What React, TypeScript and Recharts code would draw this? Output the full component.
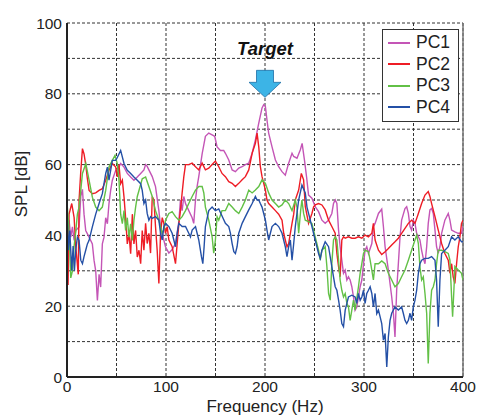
import {
  LineChart,
  Line,
  XAxis,
  YAxis,
  CartesianGrid,
  Legend,
  ReferenceLine,
  ReferenceDot,
  Label,
} from 'recharts'

// frequency (Hz) / SPL (dB), per principal component
const pc1Hz = [0, 2.1, 3.8, 5.5, 7.2, 8.8, 12.2, 13.9, 15.6, 17.2, 18.9, 22.3, 25.6, 27.3, 29, 30.7, 32.4, 34, 35.7, 37.4, 39.1, 40.8, 42.4, 44.1, 45.8, 49.2, 52.5, 54.2, 57.6, 60.9, 64.3, 67.6, 71, 74.4, 77.7, 79.4, 81, 82.7, 86.1, 89.4, 92.8, 94.5, 96.2, 97.8, 99.5, 102.9, 106.2, 109.6, 113, 114.6, 116.3, 118, 119.7, 123, 126.4, 128, 129.8, 131.4, 133.1, 136.5, 139.8, 143.2, 146.6, 149.2, 151.6, 155, 158.3, 160, 163.4, 166.8, 170.1, 173.5, 176.9, 180.2, 183.6, 187, 190.3, 193.7, 197, 198.7, 200.4, 202, 203.7, 207.1, 210.5, 213.8, 217.2, 220.5, 223.9, 227.3, 229, 232.3, 235.7, 237.5, 240, 242, 244, 247.4, 250.7, 254.1, 257.5, 260.8, 264.2, 267.5, 269.2, 270.9, 272.6, 274.3, 275.9, 277.6, 279.3, 281, 282.7, 284.3, 286, 287.7, 289.4, 291, 292.7, 294.4, 296.1, 297.8, 299.5, 301.1, 302.8, 304.5, 307.9, 309.5, 311.2, 314.6, 317.9, 319.6, 321.3, 324.6, 328, 329.7, 331.3, 333, 334.7, 336.4, 338, 341.4, 343.1, 344.8, 346.5, 348.1, 349.8, 351.5, 353.2, 354.9, 356.5, 358.2, 359.9, 361.6, 363.3, 364.9, 366.6, 368.3, 370, 371.7, 373.3, 375, 376.7, 378.4, 381.7, 385.1, 386.8, 388.5, 391.8, 395.2, 398.5, 400]
const pc1Db = [45, 44.2, 39.5, 42.4, 38.6, 41.4, 42.4, 51, 53, 46, 41.4, 39.5, 37.6, 33, 30, 21.6, 29, 25.4, 37.6, 39.5, 45, 43.3, 49, 52.7, 55.6, 58.4, 59.3, 60.3, 59.3, 57.5, 56.5, 55.6, 56.5, 57.5, 58.5, 60, 59.5, 58.5, 56.6, 53.8, 47, 42.5, 40.6, 38.7, 36.8, 35, 36, 37.7, 44, 50, 47, 51, 49, 47, 45, 43.4, 50, 53.8, 56.6, 63, 68, 68.9, 68.4, 68, 65, 64, 64, 63.2, 61.3, 58.5, 58, 59, 59.4, 60, 60.4, 63.2, 67, 71.7, 76, 76.9, 76.4, 72.6, 68.9, 65, 61.3, 59.4, 58, 57, 60.4, 63.2, 62.3, 61.8, 64.2, 66, 61, 56.5, 51.4, 50.5, 48.1, 46.7, 44.3, 43.4, 44.3, 46.2, 49, 50, 49, 41.5, 36.8, 33, 29.3, 30.2, 27.4, 28.3, 27.4, 25.5, 22.6, 18.9, 19.8, 22.6, 25.5, 27.4, 32, 35.8, 36.8, 34.9, 37.7, 42.5, 43.4, 46.2, 47.4, 42.5, 36.8, 30.2, 22.6, 18, 11.3, 24.5, 32, 39.6, 44.3, 47.6, 48.1, 46.2, 42.5, 41.5, 44.3, 43.4, 40.6, 39.6, 38.7, 35.8, 33.5, 32, 36.8, 43.4, 47.2, 47.6, 46.2, 41.5, 36.8, 34.9, 36.8, 40.6, 44.3, 46.2, 44.3, 41.5, 41, 40.6, 40.6, 42.5]

const pc2Hz = [0, 1.1, 2.1, 4.8, 7.2, 8.8, 11.4, 12.2, 13.9, 15.6, 17.2, 18.9, 20.6, 22.3, 25.6, 29, 32.4, 35.7, 39.1, 42.4, 45.8, 49.2, 50.8, 52.5, 54.2, 55.9, 57.6, 59.2, 60.9, 62.6, 64.3, 66, 67.6, 69.3, 71, 72.7, 74.4, 76, 77.7, 79.4, 81, 82.7, 84.4, 86.1, 87.8, 89.4, 91.1, 92.8, 94.5, 96.2, 97.8, 99.5, 101.2, 102.9, 106.2, 109.6, 111.3, 113, 114.6, 116.3, 118, 119.7, 123, 126.4, 129.8, 133.1, 136.5, 139.8, 143.2, 146.6, 149.9, 153.3, 156.6, 160, 163.4, 166.8, 170.1, 173.5, 176.9, 180.2, 183.6, 187, 190.3, 192, 193.7, 195.3, 197, 198.7, 200.4, 202, 203.7, 207.1, 210.5, 213.8, 217.2, 218.9, 220.5, 222.2, 223.9, 225.6, 227.3, 229, 230.6, 234, 236.7, 239, 240.7, 244, 247.4, 249.1, 250.7, 254.1, 257.5, 260.8, 264.2, 267.5, 270.9, 272.6, 274.3, 275.9, 277.6, 279.3, 281, 284.3, 287.7, 291, 294.4, 297.8, 301.1, 304.5, 307.9, 309.5, 311.2, 314.6, 317.9, 321.3, 324.6, 328, 331.3, 334.7, 338, 341.4, 344.8, 348.1, 351.5, 354.9, 358.2, 361.6, 364.9, 366.6, 368.3, 371.7, 375, 378.4, 381.7, 385.1, 386.8, 388.5, 390.1, 391.8, 393.5, 395.2, 396.9, 398.5, 400]
const pc2Db = [38.6, 26, 46, 49, 45, 37, 29, 50, 58, 64.5, 63, 60, 56, 52.7, 51.8, 52, 52.7, 53.2, 55.6, 58.4, 60.3, 59.3, 56.5, 60, 54.6, 55.6, 50.8, 45, 37.6, 40.5, 34.8, 46, 37.6, 41.4, 33.9, 35.8, 32, 41.4, 35.8, 43.4, 37.7, 40.6, 35, 51, 50, 42.5, 35.8, 26.4, 40.6, 45, 43.4, 40.6, 42.5, 38.7, 36.8, 32, 37.7, 43.4, 47, 52, 56.6, 60, 60, 60.4, 59.4, 58.5, 60.4, 58.5, 59, 60, 61, 59.4, 57.5, 56.6, 55.2, 54.7, 53.8, 54.7, 55.7, 56.6, 58.5, 63.2, 66, 68.9, 65, 59.4, 56.6, 54.7, 52.8, 50, 49, 48, 47, 46, 44.3, 40.6, 38.7, 36.8, 37.7, 40.6, 43.4, 46, 50, 52.8, 57.5, 55.7, 48.1, 43.4, 46.2, 48.1, 48.6, 49, 48.6, 47.2, 44.3, 42.5, 40.6, 34.9, 31.2, 28.3, 38.7, 39.6, 39.2, 39.6, 39.2, 39.2, 39.6, 39.2, 40.1, 39.6, 40.6, 43.4, 38.7, 35.8, 34.6, 35.4, 36.3, 37.3, 38.2, 39.2, 40.6, 42, 43.4, 44.3, 43.4, 46.2, 49, 51.4, 52.4, 51, 49, 45.3, 41.5, 37.7, 34.9, 33, 29.3, 32, 28.3, 26.4, 32, 36.8, 39.6, 43.4, 44.3]

const pc3Hz = [0, 2.1, 3.8, 5.5, 7.2, 8.8, 10.5, 12.2, 13.9, 15.6, 19, 22.3, 25.6, 29, 32.4, 35.7, 39.1, 42.4, 45.8, 48.5, 50.8, 52.5, 54.2, 55.9, 57.6, 59.2, 60.9, 62.6, 64.3, 66, 67.6, 69.3, 71, 72.7, 76, 79.4, 82.7, 86.1, 89.4, 92.8, 96.2, 97.8, 99.5, 102.9, 106.2, 109.6, 113, 116.3, 119.7, 123, 126.4, 129.8, 133.1, 136.5, 138.2, 139.8, 143.2, 146.6, 148.2, 149.9, 151.6, 153.3, 156.6, 160, 163.4, 166.8, 170.1, 173.5, 176.9, 180.2, 183.6, 187, 190.3, 193.7, 197, 200.4, 203.7, 207.1, 210.5, 213.8, 217.2, 220.5, 223.9, 227.3, 230.6, 232.3, 234, 236, 237.3, 239, 240.7, 244, 247.4, 250.7, 254.1, 255.8, 257.5, 260.8, 262.5, 264.2, 265.9, 267.5, 269.2, 270.9, 272.6, 274.3, 275.9, 277.6, 279.3, 281, 282.7, 284.3, 286, 287.7, 289.4, 291, 294.4, 296.1, 297.8, 299.5, 301.1, 304.5, 306.2, 307.9, 309.5, 311.2, 314.6, 317.9, 321.3, 324.6, 328, 331.3, 334.7, 338, 341.4, 344.8, 348.1, 351.5, 353.2, 354.9, 356.5, 358.2, 359.9, 361.6, 363.3, 364.9, 366.6, 368.3, 370, 371.7, 373.3, 375, 378.4, 381.7, 385.1, 386.8, 388.5, 389.5, 390.8, 391.8, 395.2, 398.5, 400]
const pc3Db = [49.4, 41, 28, 30, 37, 41, 46, 48, 52.7, 57.5, 60.3, 55.6, 50.8, 48, 47, 48, 52.7, 59.3, 61.2, 62.6, 60.3, 55.6, 46, 43.3, 47, 41.4, 45, 39.5, 43.3, 38.6, 44.2, 48, 51, 52.7, 56, 56.5, 53.8, 51, 47, 44.3, 40.6, 41.5, 44.3, 46.2, 46.7, 45.3, 44.3, 45.3, 47, 49, 51, 52.8, 53.8, 53.8, 52, 48, 44.3, 39.6, 35, 38.7, 45.3, 44.3, 47, 47, 49, 48, 47, 46.2, 48, 50, 52.8, 52, 52.8, 53.8, 55.7, 54.7, 52, 50, 49, 48, 48.6, 50, 49, 47, 50, 48, 40.6, 47, 50, 46.2, 44.3, 43.9, 43.4, 39.6, 35.8, 33, 35.8, 36.8, 31.2, 23.6, 21.7, 32, 38.7, 39.6, 38.7, 33, 27.4, 24.5, 22.6, 23.6, 20.8, 19.8, 16, 18.9, 21.7, 18.9, 25.5, 29.3, 32, 34.9, 35.8, 35.4, 33, 30.2, 27.4, 32, 32, 32.8, 32, 29.3, 27.4, 25.5, 26.4, 28.3, 30.2, 33, 35.8, 38.7, 40.1, 37.7, 31.2, 27.4, 28.3, 23.6, 18, 3.8, 18, 24.5, 25.5, 27.4, 32, 35.8, 35.8, 35.4, 34.9, 33, 22.6, 17, 24.5, 31.2, 30.2, 29.3, 27.4]

const pc4Hz = [0, 1.4, 2.8, 4.8, 6.2, 7.5, 8.8, 10.5, 12.2, 13.9, 15.6, 17.2, 18.9, 20.6, 22.3, 25.6, 29, 32.4, 35.7, 39.1, 40.8, 42.4, 44.1, 45.8, 49.2, 50.8, 52.5, 54.2, 57.6, 60.9, 64.3, 67.6, 71, 74.4, 76, 77.7, 79.4, 81, 82.7, 84.4, 86.1, 89.4, 92.8, 94.5, 96.2, 97.8, 99.5, 102.9, 106.2, 107.9, 109.6, 111.3, 113, 116.3, 119.7, 123, 124.7, 126.4, 129.8, 133.1, 135.8, 137.2, 138.5, 139.8, 143.2, 146.6, 149.9, 153.3, 156.6, 160, 163.4, 165.1, 166.8, 168.5, 170.1, 171.8, 173.5, 176.9, 180.2, 183.6, 187, 190.3, 192, 193.7, 195.3, 197, 198.7, 200.4, 202, 203.7, 207.1, 210.5, 213.8, 217.2, 220.5, 222.2, 223.9, 225.6, 227.3, 229, 230.6, 234, 237.3, 240.7, 242.4, 244, 247.4, 250.7, 254.1, 255.8, 257.5, 260.8, 264.2, 267.5, 269.2, 270.9, 272.6, 274.3, 275.9, 277.6, 279.3, 281, 282.7, 284.3, 287.7, 291, 292.7, 294.4, 296.1, 297.8, 299.5, 301.1, 302.8, 304.5, 306.2, 307.9, 309.5, 311.2, 312.9, 314.6, 316.3, 317.9, 319.6, 321.3, 323, 324.6, 326.3, 328, 331.3, 334.7, 338, 339.7, 341.4, 343.1, 344.8, 346.5, 348.1, 349.8, 351.5, 353.2, 354.9, 356.5, 358.2, 361.6, 364.9, 368.3, 371.7, 373.3, 375, 376.7, 378.4, 381.7, 385.1, 388.5, 391.8, 395.2, 398.5, 400]
const pc4Db = [47, 35.8, 41.4, 30, 37, 30, 35.8, 39.5, 38.6, 33, 32, 34, 35.8, 37.6, 38.6, 42.4, 46, 49, 51.8, 57.5, 59.3, 55.6, 58.4, 61.2, 61.2, 62, 63, 64, 60.3, 58.4, 57.5, 56.5, 55.6, 54.6, 52.7, 49, 50, 46.2, 44.3, 45.3, 44.8, 45.3, 44.3, 40.6, 38.7, 42.5, 43.4, 42.5, 40.6, 38.7, 36.8, 40.6, 43.4, 42.5, 42.5, 40.6, 39.6, 41.5, 42.5, 38.7, 34, 32, 36.8, 42.5, 47, 48, 47, 47.5, 45.5, 43.4, 42.5, 40.6, 37.7, 35.4, 34.9, 36.8, 40.6, 43.4, 45.3, 47.2, 49, 51, 50, 50, 49, 48, 46.2, 44.3, 41.5, 38.7, 42.5, 43.4, 42.5, 40.6, 36.8, 34, 36.8, 38.7, 33, 37.7, 42.5, 50, 54.2, 52, 48, 46.2, 42.5, 38.7, 34.9, 33.5, 35.8, 38.2, 36.8, 31.2, 28.3, 25.5, 24.5, 21.7, 18.9, 15.1, 14.2, 18.9, 20.8, 22.6, 23.1, 22.6, 20.8, 23.6, 21.7, 22.6, 24.5, 20.8, 23.6, 24.5, 25.5, 23.6, 19.8, 23.6, 17.9, 18.9, 17, 15.1, 10.4, 12.3, 2.8, 11.3, 16, 18, 19.8, 18.9, 19.8, 18, 16, 15.1, 16, 18, 16, 19.8, 21.7, 24.5, 29.3, 32, 33, 33.5, 33.5, 34, 33, 27.4, 14.2, 27.4, 34.9, 35.8, 36.8, 39.6, 38.7, 39.6, 38.2, 38.2]

const xTicks = [0, 50, 100, 150, 200, 250, 300, 350, 400]
const yTicks = [0, 10, 20, 30, 40, 50, 60, 70, 80, 90, 100]

const toPoints = (hz: number[], db: number[]) => hz.map((f, i) => ({ f, spl: db[i] }))

const series = [
  { name: 'PC1', color: '#c455b6', data: toPoints(pc1Hz, pc1Db) },
  { name: 'PC2', color: '#ee1c25', data: toPoints(pc2Hz, pc2Db) },
  { name: 'PC3', color: '#62c046', data: toPoints(pc3Hz, pc3Db) },
  { name: 'PC4', color: '#2450a6', data: toPoints(pc4Hz, pc4Db) },
]

const font = '"Liberation Sans", Arial, sans-serif'

function LegendBox() {
  return (
    <div
      style={{
        width: 77,
        height: 93,
        boxSizing: 'border-box',
        border: '1.5px solid #333',
        background: '#fff',
        paddingTop: 2,
        fontFamily: font,
      }}
    >
      {series.map((s) => (
        <div key={s.name} style={{ display: 'flex', alignItems: 'center', height: 21.5 }}>
          <span
            style={{ width: 22, height: 0, borderTop: `2.5px solid ${s.color}`, marginLeft: 5, marginRight: 6 }}
          />
          <span style={{ fontSize: 17.5, color: '#222', lineHeight: 1 }}>{s.name}</span>
        </div>
      ))}
    </div>
  )
}

// blue arrow pointing at the 200 Hz peak, with its caption
function TargetMarker(props: any) {
  const { cx, cy } = props
  if (cx == null || cy == null) return null
  const arrow = [
    [cx - 8.5, cy - 27],
    [cx + 8.5, cy - 27],
    [cx + 8.5, cy - 15],
    [cx + 16, cy - 15],
    [cx, cy],
    [cx - 16, cy - 15],
    [cx - 8.5, cy - 15],
  ]
    .map((p) => p.join(','))
    .join(' ')
  return (
    <g>
      <text
        x={cx}
        y={cy - 42}
        textAnchor="middle"
        fontFamily={font}
        fontSize={18.5}
        fontWeight="bold"
        fontStyle="italic"
        fill="#111"
      >
        Target
      </text>
      <polygon points={arrow} fill="#3cb4e6" stroke="#1d6ea6" strokeWidth={0.8} />
    </g>
  )
}

function YTitle(props: any) {
  const vb = props.viewBox || { x: 0, y: 15, width: 59, height: 354 }
  const x = vb.x + 13
  const y = vb.y + vb.height / 2 - 16
  return (
    <text
      x={x}
      y={y}
      transform={`rotate(-90, ${x}, ${y})`}
      textAnchor="middle"
      dominantBaseline="central"
      fontFamily={font}
      fontSize={17}
      fill="#222"
    >
      SPL [dB]
    </text>
  )
}

export default function App() {
  return (
    <div style={{ width: 480, height: 410, fontFamily: font }}>
      <LineChart width={480} height={410} margin={{ top: 15, right: 25, bottom: 0, left: 0 }}>
        <CartesianGrid stroke="#333" strokeDasharray="3 2" strokeWidth={1} />
        <XAxis
          type="number"
          dataKey="f"
          domain={[0, 400]}
          ticks={xTicks}
          tickFormatter={(v) => (v % 100 === 0 ? String(v) : '')}
          allowDataOverflow
          height={41}
          tickLine={false}
          tickSize={3}
          tickMargin={1}
          axisLine={{ stroke: '#222', strokeWidth: 2 }}
          tick={{ fontSize: 15.5, fill: '#222', fontFamily: font }}
          label={{ value: 'Frequency (Hz)', position: 'insideBottom', offset: 6, fontSize: 17, fill: '#222', fontFamily: font }}
        />
        <YAxis
          type="number"
          domain={[0, 100]}
          ticks={yTicks}
          tickFormatter={(v) => (v % 20 === 0 ? String(v) : '')}
          allowDataOverflow
          width={59}
          tickLine={false}
          tickSize={3}
          tickMargin={2}
          axisLine={{ stroke: '#222', strokeWidth: 2 }}
          tick={{ fontSize: 15.5, fill: '#222', fontFamily: font }}
        >
          <Label content={YTitle} />
        </YAxis>
        <ReferenceLine x={400} stroke="#777" strokeWidth={1.5} />
        {series.map((s) => (
          <Line
            key={s.name}
            data={s.data}
            dataKey="spl"
            name={s.name}
            type="linear"
            stroke={s.color}
            strokeWidth={1.4}
            dot={false}
            activeDot={false}
            isAnimationActive={false}
          />
        ))}
        <ReferenceDot x={200} y={79} r={0} shape={TargetMarker} ifOverflow="visible" />
        <Legend
          layout="vertical"
          align="center"
          verticalAlign="middle"
          content={() => <LegendBox />}
          wrapperStyle={{ left: 374, top: 21, width: 77, height: 93 }}
        />
      </LineChart>
    </div>
  )
}
